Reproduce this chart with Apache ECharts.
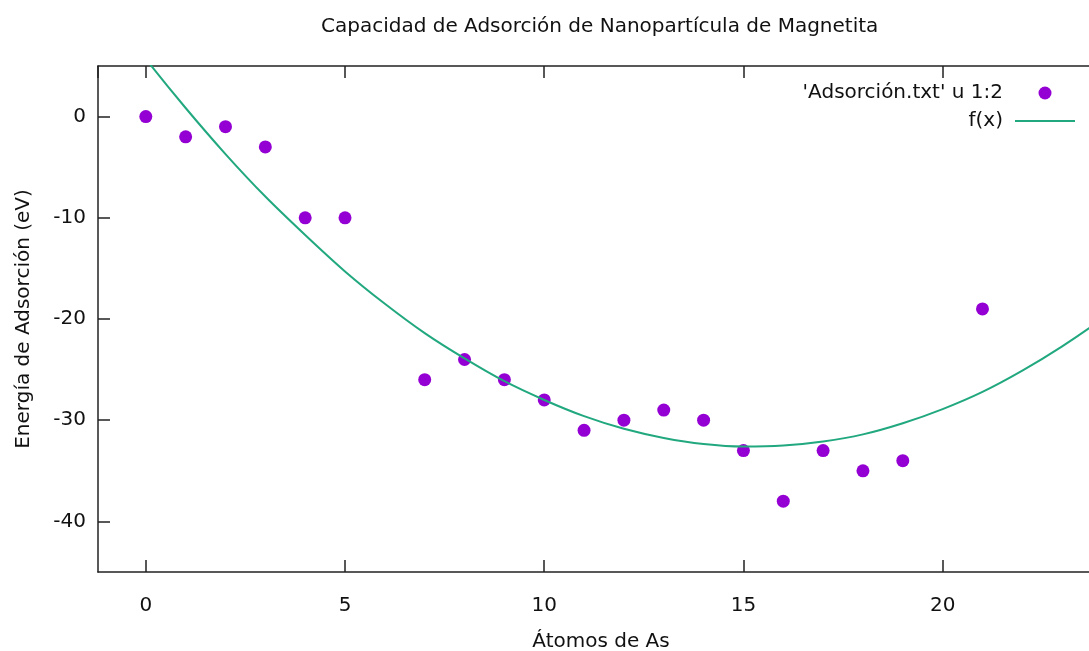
<!DOCTYPE html>
<html>
<head>
<meta charset="utf-8">
<script src="https://cdn.jsdelivr.net/npm/echarts@6/dist/echarts.min.js"></script>
<style>
  html, body { margin: 0; padding: 0; background: #fff; }
  #main { width: 1089px; height: 651px; }
</style>
</head>
<body>
<div id="main"></div>
<script>
// measured points from Adsorción.txt (columns 1:2)
const atoms = [0, 1, 2, 3, 4, 5, 7, 8, 9, 10, 11, 12, 13, 14, 15, 16, 17, 18, 19, 21];
const energy = [0, -2, -1, -3, -10, -10, -26, -24, -26, -28, -31, -30, -29, -30, -33, -38, -33, -35, -34, -19];

// fitted curve f(x) at whole x values
const fitX = [-1, 0, 1, 2, 3, 4, 5, 6, 7, 8, 9, 10, 11, 12, 13, 14, 15, 16, 17, 18, 19, 20, 21, 22, 23, 24, 25];
const fitY = [10.9, 5.7, 0.85, -3.7, -7.9, -11.7, -15.3, -18.5, -21.4, -23.9, -26.15, -28.0, -29.6, -30.85,
  -31.75, -32.35, -32.6, -32.5, -32.1, -31.4, -30.3, -28.9, -27.2, -25.1, -22.7, -20.0, -17.0];

const titleText = 'Capacidad de Adsorción de Nanopartícula de Magnetita';
const dataName = "'Adsorción.txt' u 1:2";
const fitName = 'f(x)';

const font = 'DejaVu Sans';
const frameColor = '#222';

const chart = echarts.init(document.getElementById('main'));

const onlyFives = v => (Math.abs(v % 5) < 1e-9 ? String(v) : '');
const onlyTens = v => (Math.abs(v % 10) < 1e-9 ? String(v) : '');

const axisLine = { show: true, onZero: false, lineStyle: { color: frameColor, width: 1.5 } };
const axisTick = { show: true, inside: true, length: 12, lineStyle: { color: frameColor, width: 1.5 } };

chart.setOption({
  animation: false,
  textStyle: { fontFamily: font },
  title: {
    text: titleText,
    left: 321,
    top: 17,
    padding: 0,
    textStyle: { fontFamily: font, fontSize: 20, fontWeight: 'normal', color: '#111' }
  },
  legend: {
    orient: 'vertical',
    align: 'right',
    right: 14,
    top: 83,
    padding: 0,
    itemWidth: 60,
    itemHeight: 13,
    itemGap: 8,
    textStyle: { fontFamily: font, fontSize: 20, color: '#111', padding: [0, 7, 0, 0] },
    data: [
      { name: dataName, icon: 'circle' },
      { name: fitName, icon: 'path://M0,0 L30,0 L30,1 L0,1 Z' }
    ]
  },
  grid: { left: 98, right: -15, top: 66, bottom: 79, outerBoundsMode: 'none', containLabel: false },
  xAxis: [
    {
      type: 'value', min: -1.2, max: 24.05, splitNumber: 5,
      name: 'Átomos de As', nameLocation: 'middle', nameGap: 60,
      nameTextStyle: { fontFamily: font, fontSize: 20, color: '#111' },
      axisLine, axisTick,
      axisLabel: { margin: 24, fontSize: 20, color: '#111', formatter: onlyFives, showMinLabel: false, showMaxLabel: false },
      splitLine: { show: false }
    },
    {
      type: 'value', position: 'top', min: -1.2, max: 24.05, splitNumber: 5,
      axisLine, axisTick, axisLabel: { show: false }, splitLine: { show: false }
    }
  ],
  yAxis: [
    {
      type: 'value', min: -45, max: 5, splitNumber: 5,
      name: 'Energía de Adsorción (eV)', nameLocation: 'middle', nameGap: 64,
      nameTextStyle: { fontFamily: font, fontSize: 20, color: '#111' },
      axisLine, axisTick,
      axisLabel: { margin: 12, fontSize: 20, color: '#111', formatter: onlyTens, showMinLabel: false, showMaxLabel: false },
      splitLine: { show: false }
    },
    {
      type: 'value', position: 'right', min: -45, max: 5, splitNumber: 5,
      axisLine, axisTick, axisLabel: { show: false }, splitLine: { show: false }
    }
  ],
  series: [
    {
      name: dataName,
      type: 'scatter',
      symbol: 'circle',
      symbolSize: 13,
      itemStyle: { color: '#9400d3', opacity: 1 },
      data: atoms.map((x, i) => [x, energy[i]])
    },
    {
      name: fitName,
      type: 'line',
      symbol: 'none',
      showSymbol: false,
      smooth: 0.3,
      clip: true,
      lineStyle: { color: '#22a87f', width: 2 },
      itemStyle: { color: '#22a87f' },
      data: fitX.map((x, i) => [x, fitY[i]])
    }
  ]
});
</script>
</body>
</html>
